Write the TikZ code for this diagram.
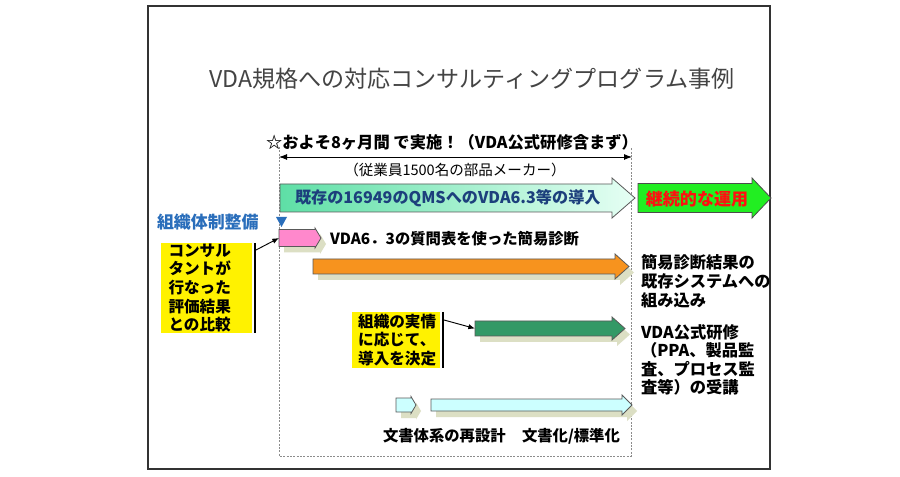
\documentclass[tikz,border=0pt]{standalone}
\usepackage{fontspec}
\setmainfont{Noto Sans CJK JP}
\usetikzlibrary{arrows.meta,calc}
\definecolor{shadowc}{HTML}{DCDFC4}
\definecolor{pinkc}{HTML}{FF88CC}
\definecolor{orangec}{HTML}{F7931E}
\definecolor{dgreenc}{HTML}{339966}
\definecolor{cyanc}{HTML}{CCFFFF}
\definecolor{brightg}{HTML}{22EE22}
\definecolor{mintL}{HTML}{5EDFA6}
\definecolor{mintR}{HTML}{E6FFF4}
\definecolor{navyc}{HTML}{1C3F7C}
\definecolor{bluec}{HTML}{2A6EBB}
\definecolor{redc}{HTML}{FF1010}
\definecolor{titlec}{HTML}{444444}
\newcommand\blockarr[8]{%
  \coordinate (#8) at (#2,#5);
  \path[#1] (#2,{#5-#6}) -- (#3,{#5-#6}) -- (#3,{#5-#7}) -- (#4,#5) -- (#3,{#5+#7}) -- (#3,{#5+#6}) -- (#2,{#5+#6}) -- cycle;}
\begin{document}
\begin{tikzpicture}[x=0.75pt,y=-0.75pt,
  every node/.style={inner sep=0pt,outer sep=0pt},
  border/.style={draw=black!65,line width=0.6pt},
  shad/.style={fill=shadowc,shift={(5,6)}},
  ybox/.style={fill=yellow,align=left,inner ysep=0pt,
    font=\fontsize{11.7pt}{13.9pt}\selectfont\bfseries},
  btxt/.style={font=\fontsize{12.2pt}{14.2pt}\selectfont\bfseries,align=left},
  bar/.style={line width=1.4pt,black},
  conn/.style={black,line width=0.7pt,-{Latex[length=5pt,width=4pt]}}]
\useasboundingbox (0,0) rectangle (900,477);
\fill[white] (0,0) rectangle (900,477);
% outer frame
\draw[black!80,line width=1pt] (148,6) rectangle (770,469);
% dashed box
\draw[black!45,line width=0.6pt,dash pattern=on 1.5pt off 1pt]
  (279,147) -- (279,456) -- (631,456) -- (631,148);
% title
\node[font=\fontsize{17.3pt}{20pt}\selectfont,text=titlec] (title) at (472,79)
  {VDA規格への対応コンサルティングプログラム事例};
% period line
\node[anchor=west,font=\fontsize{12.2pt}{14pt}\selectfont\bfseries] (star) at (266,142)
  {☆およそ8ヶ月間 で実施！（VDA公式研修含まず）};
\coordinate (spanL) at (279,157);
\coordinate (spanR) at (632,157);
\draw[black,line width=0.7pt,{Latex[length=6pt,width=4.5pt]}-{Latex[length=6pt,width=4.5pt]}] (spanL) -- (spanR);
\node[font=\fontsize{10.9pt}{12pt}\selectfont] (company) at (455,170)
  {（従業員1500名の部品メーカー）};
% big arrows
\blockarr{border,left color=mintL,right color=mintR}{280}{612}{635}{198}{14}{20}{bigL}
\node[anchor=west,font=\fontsize{12.1pt}{14pt}\selectfont\bfseries,text=navyc] (bigtxt) at (295,198)
  {既存の16949のQMSへのVDA6.3等の導入};
\blockarr{draw=black!70,line width=0.6pt,fill=brightg}{638}{752}{771}{198}{14.5}{20}{grnL}
\node[font=\fontsize{12.8pt}{14pt}\selectfont\bfseries,text=redc] (grntxt) at (697,199)
  {継続的な運用};
% organisation
\node[anchor=west,font=\fontsize{12.7pt}{14pt}\selectfont\bfseries,text=bluec] (org) at (157,222)
  {組織体制整備};
\fill[bluec] (276,217) -- (287,217) -- (281.5,227) -- cycle;
% pink arrow
\blockarr{shad}{279}{315}{321}{238}{8.5}{10}{pinkS}
\blockarr{border,fill=pinkc}{279}{315}{321}{238}{8.5}{10}{pinkL}
\node[anchor=west,font=\fontsize{11.5pt}{14pt}\selectfont\bfseries] (diag) at (330,239) {VDA6．3の質問表を使った簡易診断};
% orange arrow
\blockarr{shad}{313}{615}{629}{266.5}{7.5}{12.5}{orS}
\blockarr{border,fill=orangec}{313}{615}{629}{266.5}{7.5}{12.5}{orL}
\node[anchor=west,btxt] (r1) at (641,281) {簡易診断結果の\\既存システムへの\\組み込み};
% yellow box 1
\node[ybox,inner xsep=5.5pt,text width=57pt,minimum height=67.5pt] (y1) at (206.5,288)
  {コンサル\\タントが\\行なった\\評価結果\\との比較};
\coordinate (b1t) at (255,243);
\coordinate (b1b) at (255,333);
\draw[bar] (b1t) -- (b1b);
\coordinate (b1s) at (256,250);
\draw[conn] (b1s) -- (pinkL);
% dark green arrow
\blockarr{shad}{475}{612}{625}{328.5}{7.5}{11.5}{dgS}
\blockarr{border,fill=dgreenc}{475}{612}{625}{328.5}{7.5}{11.5}{dgL}
\node[anchor=west,btxt,font=\fontsize{12.2pt}{13.9pt}\selectfont\bfseries] (r2) at (641,360)
  {VDA公式研修\\（PPA、製品監\\査、プロセス監\\査等）の受講};
% yellow box 2
\node[ybox,inner xsep=5pt,text width=56pt,minimum height=42pt] (y2) at (395.5,340)
  {組織の実情\\に応じて、\\導入を決定};
\coordinate (b2t) at (443,312);
\coordinate (b2b) at (443,368);
\draw[bar] (b2t) -- (b2b);
\coordinate (b2s) at (444,320);
\draw[conn] (b2s) -- (dgL);
% cyan arrows
\blockarr{shad}{396}{411}{416}{405}{7}{8.5}{c1S}
\blockarr{border,fill=cyanc}{396}{411}{416}{405}{7}{8.5}{c1L}
\blockarr{shad}{431}{622}{632}{405}{6}{10}{c2S}
\blockarr{border,fill=cyanc}{431}{622}{632}{405}{6}{10}{c2L}
\node[anchor=west,font=\fontsize{11.5pt}{13pt}\selectfont\bfseries] (doc1) at (383,436) {文書体系の再設計};
\node[anchor=west,font=\fontsize{11.5pt}{13pt}\selectfont\bfseries] (doc2) at (522,436) {文書化/標準化};
\end{tikzpicture}
\end{document}
